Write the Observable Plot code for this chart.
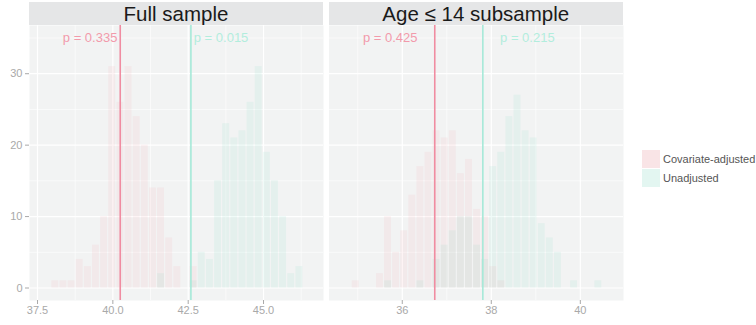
<!DOCTYPE html>
<html>
<head>
<meta charset="utf-8">
<script src="https://cdn.jsdelivr.net/npm/d3@7"></script>
<script src="https://cdn.jsdelivr.net/npm/@observablehq/plot@0.6"></script>
<style>
  body { margin: 0; background: #fff; font-family: "Liberation Sans", Arial, sans-serif; }
  #chart { position: relative; width: 756px; height: 325px; overflow: hidden; }
  .strip { position: absolute; top: 2px; height: 23px; background: #e5e6e7; color: #1a1a1a;
           font-size: 20.5px; line-height: 23px; text-align: center; white-space: nowrap; }
  .panel { position: absolute; top: 25px; }
  .key { position: absolute; left: 642px; width: 18px; height: 18px; }
  .keylabel { position: absolute; left: 663px; font-size: 11px; color: #555; line-height: 13px; white-space: nowrap; }
</style>
</head>
<body>
<div id="chart"></div>
<script>
// Groups and colours
const groups = ["Covariate-adjusted", "Unadjusted"];
const barColors = ["#f07a90", "#4fd2b2"];
const lineColors = ["#f08ca1", "#a6e9d8"];
const textColors = ["#f29aab", "#b2eddd"];
const keyColors = ["#f9e4e6", "#e3f6f1"];
const facetTitles = ["Full sample", "Age \u2264 14 subsample"];

// Shared count axis
const countTicks = [0, 10, 20, 30];
const countMinor = [5, 15, 25, 35];

// Full sample: simulated estimates, binned
const fullBinStart = 37.955;
const fullBinWidth = 0.27;
const fullAdjusted   = [1, 1, 1, 4, 3, 6, 10, 31, 26, 31, 24, 20, 14, 14, 7, 3, 0, 3, 0, 0, 0, 0, 0, 0, 0, 0, 0, 0, 0, 0, 0];
const fullUnadjusted = [0, 0, 0, 0, 0, 0, 0, 0, 0, 0, 0, 0, 0, 2, 0, 0, 0, 1, 5, 4, 15, 23, 21, 22, 26, 31, 19, 15, 10, 2, 3];
const fullObserved = [40.245, 42.59];
const fullPValues = ["0.335", "0.015"];
const fullXTicks = [37.5, 40, 42.5, 45];
const fullXMinor = [38.75, 41.25, 43.75, 46.25];

// Age <= 14 subsample
const youngBinStart = 34.863;
const youngBinWidth = 0.1817;
const youngAdjusted   = [1, 0, 0, 2, 10, 5, 8, 13, 17, 19, 22, 21, 22, 16, 18, 11, 10, 3, 1, 0, 0, 0, 0, 0, 0, 0, 0, 0, 0, 0, 0];
const youngUnadjusted = [0, 0, 0, 0, 1, 0, 0, 0, 1, 0, 4, 6, 8, 10, 10, 6, 4, 17, 19, 24, 27, 22, 21, 9, 7, 5, 0, 1, 0, 0, 1];
const youngObserved = [36.73, 37.81];
const youngPValues = ["0.425", "0.215"];
const youngXTicks = [36, 38, 40];
const youngXMinor = [35, 37, 39];

function binRows(start, width, counts) {
  return counts
    .map((n, i) => ({x1: start + i * width, x2: start + (i + 1) * width, n}))
    .filter(d => d.n > 0);
}

function facet({width, marginLeft, marginRight, domain, ticks, minor, format,
                start, binWidth, adjusted, unadjusted, observed, pValues, showY}) {
  const labels = [
    {x: observed[0] - 1, text: "p = " + pValues[0], color: textColors[0]},
    {x: observed[1] + 1, text: "p = " + pValues[1], color: textColors[1]}
  ];
  const marks = [
    Plot.frame({fill: "#f2f3f3", stroke: "none"}),
    Plot.gridY(countMinor, {stroke: "#fff", strokeOpacity: 1, strokeWidth: 0.6}),
    Plot.gridX(minor, {stroke: "#fff", strokeOpacity: 1, strokeWidth: 0.6}),
    Plot.gridY(countTicks, {stroke: "#fff", strokeOpacity: 1, strokeWidth: 1.2}),
    Plot.gridX(ticks, {stroke: "#fff", strokeOpacity: 1, strokeWidth: 1.2}),
    Plot.rectY(binRows(start, binWidth, adjusted), {
      x1: "x1", x2: "x2", y: "n", fill: barColors[0], fillOpacity: 0.085, insetLeft: 0.6, insetRight: 0.6
    }),
    Plot.rectY(binRows(start, binWidth, unadjusted), {
      x1: "x1", x2: "x2", y: "n", fill: barColors[1], fillOpacity: 0.085, insetLeft: 0.6, insetRight: 0.6
    }),
    Plot.ruleX([observed[0]], {stroke: lineColors[0], strokeWidth: 1.6}),
    Plot.ruleX([observed[1]], {stroke: lineColors[1], strokeWidth: 1.6}),
    Plot.text(labels, {x: "x", y: () => 35, text: "text", fill: "color", fontSize: 13}),
    Plot.axisX(ticks, {tickSize: 4, tickPadding: 2, tickFormat: format, color: "#a9a9a9", fontSize: 11, label: null})
  ];
  if (showY) {
    marks.push(Plot.axisY(countTicks, {tickSize: 4, tickPadding: 3, color: "#a9a9a9", fontSize: 11, label: null}));
  }
  return Plot.plot({
    width, height: 300,
    marginTop: 0, marginBottom: 25, marginLeft, marginRight,
    x: {domain, axis: null},
    y: {domain: [-1.75, 36.75], axis: null},
    color: {type: "identity"},
    style: {fontFamily: "Liberation Sans, Arial, sans-serif", fontSize: "11px", background: "transparent", overflow: "visible"},
    marks
  });
}

const chart = document.getElementById("chart");

function place(node, left) {
  node.classList.add("panel");
  node.style.left = left + "px";
  chart.appendChild(node);
}

place(facet({
  width: 324, marginLeft: 29, marginRight: 1,
  domain: [37.234, 46.99], ticks: fullXTicks, minor: fullXMinor, format: d3.format(".1f"),
  start: fullBinStart, binWidth: fullBinWidth,
  adjusted: fullAdjusted, unadjusted: fullUnadjusted,
  observed: fullObserved, pValues: fullPValues, showY: true
}), 0);

place(facet({
  width: 300, marginLeft: 2.5, marginRight: 3,
  domain: [34.354, 40.97], ticks: youngXTicks, minor: youngXMinor, format: d3.format("d"),
  start: youngBinStart, binWidth: youngBinWidth,
  adjusted: youngAdjusted, unadjusted: youngUnadjusted,
  observed: youngObserved, pValues: youngPValues, showY: false
}), 326);

// Facet strips
[[29, 294], [328.5, 294.5]].forEach(([left, w], i) => {
  const s = document.createElement("div");
  s.className = "strip";
  s.style.left = left + "px";
  s.style.width = w + "px";
  s.textContent = facetTitles[i];
  chart.appendChild(s);
});

// Legend
groups.forEach((g, i) => {
  const k = document.createElement("div");
  k.className = "key";
  k.style.top = (150 + i * 19) + "px";
  k.style.background = keyColors[i];
  chart.appendChild(k);
  const l = document.createElement("div");
  l.className = "keylabel";
  l.style.top = (153 + i * 19) + "px";
  l.textContent = g;
  chart.appendChild(l);
});
</script>
</body>
</html>
